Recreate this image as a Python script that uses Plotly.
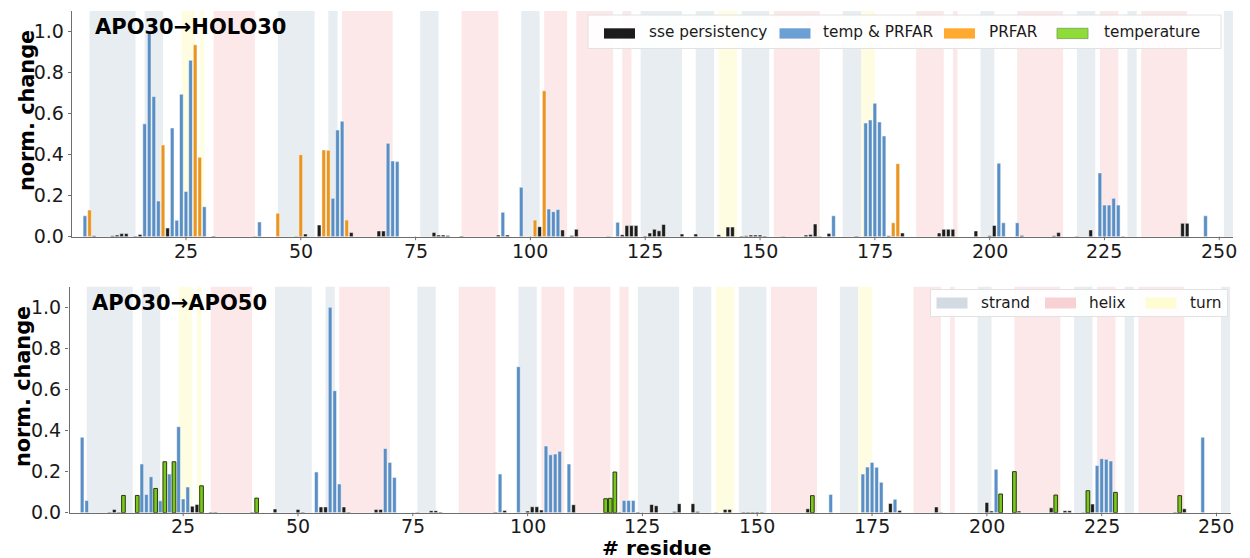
import plotly.graph_objects as go

# ---------------- data ----------------
# secondary structure elements (residue ranges)
ss_type = ["strand", "strand", "turn", "turn", "helix", "strand", "strand", "helix",
           "strand", "helix", "strand", "helix", "helix", "helix", "strand", "strand",
           "turn", "strand", "helix", "strand", "turn", "helix", "helix", "strand",
           "helix", "strand", "helix", "strand", "helix", "strand"]
ss_start = [4, 16, 24, 28, 31, 45, 56, 59, 76, 85, 98, 103, 110, 120, 124, 136,
            141, 146, 153, 168, 172, 184, 192, 198, 206, 219, 224, 230, 233, 251]
ss_end = [14, 20, 27, 29, 40, 53, 58, 70, 80, 93, 102, 108, 118, 122, 133, 140,
          145, 152, 163, 172, 175, 190, 193, 201, 216, 223, 228, 232, 243, 253]

x_ticks = [25, 50, 75, 100, 125, 150, 175, 200, 225, 250]
x_tick_labels = ["25", "50", "75", "100", "125", "150", "175", "200", "225", "250"]
y_ticks = [0.0, 0.2, 0.4, 0.6, 0.8, 1.0]

# ---- APO30 -> HOLO30 ----
top_sse_res = [5, 9, 10, 11, 12, 14, 15, 21, 31, 40, 49, 51, 54, 61, 67, 68, 79, 80, 81, 82,
               85, 93, 95, 102, 107, 109, 110, 117, 120, 121, 122, 123, 125, 126, 127, 128,
               129, 133, 136, 141, 143, 144, 146, 147, 148, 149, 150, 151, 155, 160, 161,
               162, 163, 165, 171, 178, 181, 189, 190, 191, 192, 197, 200, 201, 207, 214,
               215, 219, 222, 229, 242, 243]
top_sse_val = [0.005, 0.005, 0.008, 0.015, 0.015, 0.003, 0.011, 0.042, 0.003, 0.002, 0.002,
               0.013, 0.057, 0.020, 0.028, 0.028, 0.021, 0.008, 0.008, 0.006, 0.004, 0.008,
               0.008, 0.049, 0.033, 0.006, 0.036, 0.002, 0.010, 0.054, 0.054, 0.054, 0.003,
               0.018, 0.036, 0.029, 0.060, 0.013, 0.013, 0.010, 0.047, 0.047, 0.003, 0.005,
               0.008, 0.008, 0.008, 0.004, 0.002, 0.008, 0.011, 0.062, 0.002, 0.016, 0.003,
               0.005, 0.018, 0.018, 0.036, 0.036, 0.036, 0.028, 0.005, 0.055, 0.006, 0.005,
               0.020, 0.002, 0.033, 0.002, 0.065, 0.065]
top_both_res = [3, 16, 17, 18, 19, 22, 23, 24, 25, 26, 29, 41, 57, 58, 59, 69, 70, 71, 94, 98,
                104, 105, 106, 119, 166, 173, 174, 175, 176, 177, 202, 203, 206, 224, 225,
                226, 227, 228, 247]
top_both_val = [0.102, 0.55, 1.0, 0.683, 0.174, 0.53, 0.08, 0.694, 0.22, 0.86, 0.146, 0.072,
                0.187, 0.52, 0.563, 0.455, 0.369, 0.366, 0.119, 0.241, 0.135, 0.122, 0.133,
                0.07, 0.102, 0.554, 0.569, 0.65, 0.559, 0.491, 0.358, 0.068, 0.068, 0.311,
                0.154, 0.154, 0.187, 0.154, 0.102]
top_prfar_res = [4, 20, 27, 28, 45, 50, 55, 56, 60, 101, 103, 179, 180]
top_prfar_val = [0.13, 0.447, 0.935, 0.387, 0.114, 0.40, 0.423, 0.421, 0.081, 0.081, 0.711,
                 0.068, 0.356]
top_temp_res = []
top_temp_val = []

# ---- APO30 -> APO50 ----
bot_sse_res = [9, 10, 11, 27, 28, 31, 32, 40, 45, 50, 51, 55, 56, 60, 61, 67, 68, 76, 79, 80,
               81, 93, 95, 100, 101, 102, 103, 110, 120, 124, 127, 128, 132, 133, 136, 137,
               141, 143, 144, 147, 148, 149, 150, 151, 161, 178, 179, 181, 189, 190, 200,
               201, 207, 214, 217, 218, 221, 223, 241, 243]
bot_sse_val = [0.003, 0.016, 0.003, 0.032, 0.040, 0.003, 0.003, 0.003, 0.018, 0.016, 0.003,
               0.028, 0.028, 0.028, 0.003, 0.016, 0.016, 0.002, 0.010, 0.010, 0.004, 0.003,
               0.011, 0.008, 0.029, 0.029, 0.013, 0.039, 0.003, 0.003, 0.040, 0.034, 0.006,
               0.044, 0.044, 0.006, 0.002, 0.016, 0.016, 0.003, 0.003, 0.003, 0.003, 0.003,
               0.019, 0.003, 0.045, 0.011, 0.028, 0.002, 0.050, 0.008, 0.008, 0.024, 0.010,
               0.010, 0.002, 0.042, 0.003, 0.019]
bot_both_res = [3, 4, 16, 17, 18, 20, 22, 24, 25, 26, 54, 57, 58, 59, 69, 70, 71, 94, 98, 104,
                105, 106, 107, 109, 121, 122, 123, 166, 173, 174, 175, 176, 177, 180, 202,
                224, 225, 226, 227, 247]
bot_both_val = [0.367, 0.06, 0.237, 0.089, 0.175, 0.058, 0.188, 0.419, 0.067, 0.125, 0.198,
                1.0, 0.594, 0.14, 0.313, 0.245, 0.172, 0.188, 0.711, 0.325, 0.282, 0.286,
                0.299, 0.237, 0.06, 0.06, 0.06, 0.089, 0.188, 0.222, 0.245, 0.221, 0.148,
                0.065, 0.211, 0.23, 0.263, 0.26, 0.252, 0.367]
bot_prfar_res = []
bot_prfar_val = []
bot_temp_res = [12, 15, 19, 21, 23, 29, 41, 117, 118, 119, 162, 203, 206, 215, 222, 228, 242]
bot_temp_val = [0.084, 0.084, 0.118, 0.248, 0.248, 0.131, 0.071, 0.068, 0.07, 0.198, 0.083,
                0.091, 0.2, 0.086, 0.107, 0.099, 0.083]

series_names = ["sse persistency", "temp & PRFAR", "PRFAR", "temperature"]
ss_names = ["strand", "helix", "turn"]

# ---------------- styling ----------------
FONT = "DejaVu Sans"
bar_color = {"sse persistency": "#1c1c1c", "temp & PRFAR": "#5a8fc5",
             "PRFAR": "#ea951f", "temperature": "#78c81c"}
bar_edge = {"sse persistency": "#ffffff", "temp & PRFAR": "#ffffff",
            "PRFAR": "#ffffff", "temperature": "#2b3a10"}
bar_edge_w = {"sse persistency": 0.5, "temp & PRFAR": 0.5, "PRFAR": 0.5, "temperature": 1.0}
leg_color = {"sse persistency": "#1c1c1c", "temp & PRFAR": "#6aa0d4",
             "PRFAR": "#ffa930", "temperature": "#8ddc38"}
band_color = {"strand": "#e7edf0", "helix": "#fce8e8", "turn": "#fefde2"}
band_leg_color = {"strand": "#d2dbe2", "helix": "#f8d2d2", "turn": "#fefcd2"}
AXIS_COLOR = "#6e6e6e"

W, H = 1250, 558
ML, MR, MT, MB = 69, 16, 11, 45
PW = W - ML - MR
PH = H - MT - MB


def fx(px):
    return (px - ML) / PW


def fy(py):
    return (H - MB - py) / PH


fig = go.Figure()

panels = [
    ("x", "y", [top_sse_res, top_both_res, top_prfar_res, top_temp_res],
     [top_sse_val, top_both_val, top_prfar_val, top_temp_val]),
    ("x2", "y2", [bot_sse_res, bot_both_res, bot_prfar_res, bot_temp_res],
     [bot_sse_val, bot_both_val, bot_prfar_val, bot_temp_val]),
]

for xa, ya, res_lists, val_lists in panels:
    for name, rr, vv in zip(series_names, res_lists, val_lists):
        if not rr:
            continue
        fig.add_trace(go.Bar(
            x=rr, y=vv, width=0.8, name=name, xaxis=xa, yaxis=ya, showlegend=False,
            marker=dict(color=bar_color[name],
                        line=dict(color=bar_edge[name], width=bar_edge_w[name])),
        ))

shapes = []
for xa, ya in [("x", "y"), ("x2", "y2")]:
    for t, s, e in zip(ss_type, ss_start, ss_end):
        shapes.append(dict(type="rect", xref=xa, yref=ya + " domain", x0=s, x1=e, y0=0, y1=1,
                           fillcolor=band_color[t], line=dict(width=0), layer="below"))

annotations = []

# x ticks: small outward marks + labels placed on the axis scale
for xa, base_py, label_py in [("x", 236.7, 251), ("x2", 512.7, 525.5)]:
    for tv, tl in zip(x_ticks, x_tick_labels):
        shapes.append(dict(type="line", xref=xa, yref="paper", x0=tv, x1=tv,
                           y0=fy(base_py), y1=fy(base_py + 3.5),
                           line=dict(color=AXIS_COLOR, width=1), layer="above"))
        annotations.append(dict(xref=xa, yref="paper", x=tv, y=fy(label_py), text=tl,
                                showarrow=False, xanchor="center", yanchor="middle",
                                height=18, borderpad=0,
                                font=dict(family=FONT, size=19, color="#1a1a1a")))


def legend_box(x0, x1, y0, y1):
    shapes.append(dict(type="rect", xref="paper", yref="paper",
                       x0=fx(x0), x1=fx(x1), y0=fy(y1), y1=fy(y0),
                       fillcolor="rgba(255,255,255,0.9)",
                       line=dict(color="#e2e2e2", width=1), layer="above"))


def legend_item(px0, pw, py0, ph, color, text, tx, ty, edge=None):
    shapes.append(dict(type="rect", xref="paper", yref="paper",
                       x0=fx(px0), x1=fx(px0 + pw), y0=fy(py0 + ph), y1=fy(py0),
                       fillcolor=color, line=dict(width=0.8 if edge else 0, color=edge or color),
                       layer="above"))
    annotations.append(dict(xref="paper", yref="paper", x=fx(tx), y=fy(ty), text=text,
                            showarrow=False, xanchor="left", yanchor="middle",
                            font=dict(family=FONT, size=15.3, color="#1a1a1a")))


# top legend
legend_box(588, 1221, 15, 48.5)
top_leg_x = [604, 779.5, 944, 1057]
top_txt_x = [646.5, 821.5, 987, 1102]
for name, lx, tx in zip(series_names, top_leg_x, top_txt_x):
    legend_item(lx, 31, 28.3, 10.3, leg_color[name], name, tx, 32.5,
                edge="#7a9a5a" if name == "temperature" else None)

# bottom legend
legend_box(930.5, 1227.5, 289.5, 316.5)
bot_leg_x = [936.5, 1045, 1145.5]
bot_txt_x = [979, 1087, 1187.5]
for name, lx, tx in zip(ss_names, bot_leg_x, bot_txt_x):
    legend_item(lx, 31, 297.5, 11, band_leg_color[name], name, tx, 303)

# panel titles
annotations.append(dict(xref="paper", yref="paper", x=fx(92.5), y=fy(27), text="APO30→HOLO30",
                        showarrow=False, xanchor="left", yanchor="middle",
                        font=dict(family=FONT, size=21, color="#000000", weight="bold")))
annotations.append(dict(xref="paper", yref="paper", x=fx(90), y=fy(303.5), text="APO30→APO50",
                        showarrow=False, xanchor="left", yanchor="middle",
                        font=dict(family=FONT, size=21, color="#000000", weight="bold")))
# axis titles
for yc, xc in [(111, 27), (387, 23)]:
    annotations.append(dict(xref="paper", yref="paper", x=fx(xc), y=fy(yc), text="norm. change",
                            showarrow=False, textangle=-90, xanchor="center", yanchor="middle",
                            font=dict(family=FONT, size=20.8, color="#000000", weight="bold")))
annotations.append(dict(xref="paper", yref="paper", x=fx(657), y=fy(547.5), text="# residue",
                        showarrow=False, xanchor="center", yanchor="middle",
                        height=21, borderpad=0,
                        font=dict(family=FONT, size=20.3, color="#000000", weight="bold")))

axis_common = dict(showgrid=False, zeroline=False, showline=True, linecolor=AXIS_COLOR,
                   linewidth=1.2, tickfont=dict(family=FONT, size=19, color="#1a1a1a"),
                   mirror=False)
x_common = dict(ticks="", showticklabels=False, **axis_common)
y_common = dict(ticks="outside", ticklen=3.5, tickwidth=1, tickcolor=AXIS_COLOR, **axis_common)

fig.update_layout(
    width=W, height=H,
    margin=dict(l=ML, r=MR, t=MT, b=MB, autoexpand=False),
    paper_bgcolor="white", plot_bgcolor="white",
    barmode="overlay", showlegend=False,
    font=dict(family=FONT),
    xaxis=dict(domain=[fx(72.3), fx(1233.3)], anchor="y", range=[0.25, 253.05],
               tickvals=x_ticks, **x_common),
    yaxis=dict(domain=[fy(236.7), fy(11)], anchor="x", range=[0, 1.1],
               tickvals=y_ticks, tickformat=".1f", **y_common),
    xaxis2=dict(domain=[fx(69.5), fx(1230.5)], anchor="y2", range=[0.25, 253.05],
                tickvals=x_ticks, **x_common),
    yaxis2=dict(domain=[fy(512.7), fy(286.8)], anchor="x2", range=[0, 1.1],
                tickvals=y_ticks, tickformat=".1f", **y_common),
    shapes=shapes,
    annotations=annotations,
)

fig.write_html("out.html")
